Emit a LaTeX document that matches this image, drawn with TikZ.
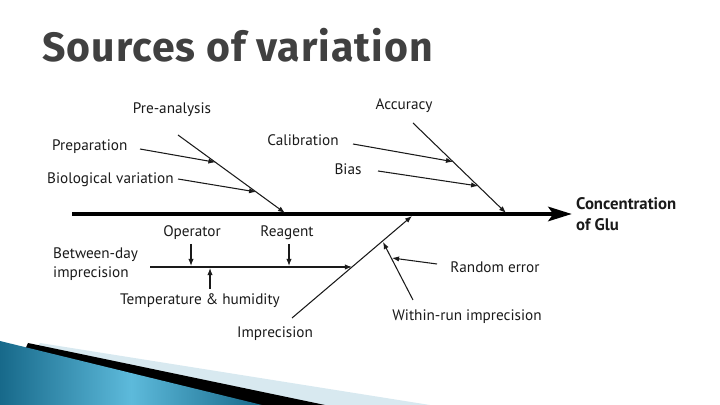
\documentclass[tikz,border=0pt]{standalone}
\usepackage{fontspec}
\setmainfont{PT Sans}
\newfontfamily\titlefont[LetterSpace=2.5]{Fira Sans}
\usetikzlibrary{arrows.meta,calc}
\definecolor{slidegray}{HTML}{404040}
\definecolor{tealdark}{HTML}{17698A}
\definecolor{teallight}{HTML}{5DBADB}
\definecolor{paleblue}{HTML}{D8E9F0}
\definecolor{inkgray}{HTML}{1A1A1A}

\begin{document}
\begin{tikzpicture}[
  x=0.03cm,y=-0.03cm,>={Latex[length=6pt,width=4.5pt]},
  bone/.style={draw=inkgray,line width=0.9pt},
  cause/.style={bone,->},
  lbl/.style={font=\fontsize{13}{16}\selectfont,text=inkgray,inner sep=0pt,align=left},
  ttl/.style={font=\titlefont\bfseries\fontsize{35}{40}\selectfont,inner sep=0pt,anchor=base west}
]
\useasboundingbox (0,0) rectangle (720,405);

% slide decoration
\fill[paleblue] (40,343) -- (430,405) -- (0,405) -- cycle;
\fill[black] (28,343) -- (325,405) -- (0,405) -- cycle;
\shade[left color=tealdark,right color=tealdark,middle color=teallight]
  (0,341) -- (262,405) -- (0,405) -- cycle;

\node[ttl,text=slidegray] (title) at (42,62) {Sources of variation};

% spine
\coordinate (spL) at (72,214);
\coordinate (spR) at (572,214);
\draw[draw=black,line width=4.2pt,-{Stealth[length=20pt,width=12pt,inset=4pt]}] (spL) -- (spR);
\node[lbl,font=\fontsize{14.3}{18}\selectfont\bfseries,anchor=west] (glu) at (576,214) {Concentration\\of Glu};

% bones
\coordinate (paS) at (178,135); \coordinate (paE) at (285,213);
\coordinate (acS) at (413,123); \coordinate (acE) at (506,213);
\coordinate (imS) at (292,318); \coordinate (imE) at (412,216);
\coordinate (bdS) at (150,267); \coordinate (bdE) at (352,267);
\coordinate (wrS) at (413,300); \coordinate (wrE) at (383,242);
\foreach \s/\e in {paS/paE,acS/acE,imS/imE,bdS/bdE,wrS/wrE} {\draw[cause] (\s) -- (\e);}

\coordinate (prepS) at (140,149); \coordinate (prepE) at ($(paS)!0.35!(paE)$);
\coordinate (bioS) at (178,179);  \coordinate (bioE) at ($(paS)!0.73!(paE)$);
\coordinate (calS) at (353,144);  \coordinate (calE) at ($(acS)!0.43!(acE)$);
\coordinate (biasS) at (378,171); \coordinate (biasE) at ($(acS)!0.70!(acE)$);
\coordinate (opS) at (191,244);   \coordinate (opE) at (191,266);
\coordinate (reS) at (289,244);   \coordinate (reE) at (289,266);
\coordinate (thS) at (210,289);   \coordinate (thE) at (210,268);
\coordinate (rnS) at (437,264);   \coordinate (rnE) at (392,258);
\foreach \s/\e in {prepS/prepE,bioS/bioE,calS/calE,biasS/biasE,opS/opE,reS/reE,thS/thE,rnS/rnE} {\draw[cause] (\s) -- (\e);}

\node[lbl] (pre) at (172,110) {Pre-analysis};
\node[lbl,anchor=west] (prep) at (52,147) {Preparation};
\node[lbl,anchor=west] (bio) at (47,180) {Biological variation};
\node[lbl] (acc) at (404,106) {Accuracy};
\node[lbl] (cal) at (303,140) {Calibration};
\node[lbl] (bias) at (348,169) {Bias};
\node[lbl] (oper) at (192,233) {Operator};
\node[lbl] (reag) at (287,233) {Reagent};
\node[lbl,anchor=west] (bday) at (53,264) {Between-day\\imprecision};
\node[lbl] (temp) at (200,301) {Temperature \& humidity};
\node[lbl] (impr) at (275,334) {Imprecision};
\node[lbl] (rand) at (495,267) {Random error};
\node[lbl] (wrun) at (467,317) {Within-run imprecision};
\end{tikzpicture}
\end{document}
